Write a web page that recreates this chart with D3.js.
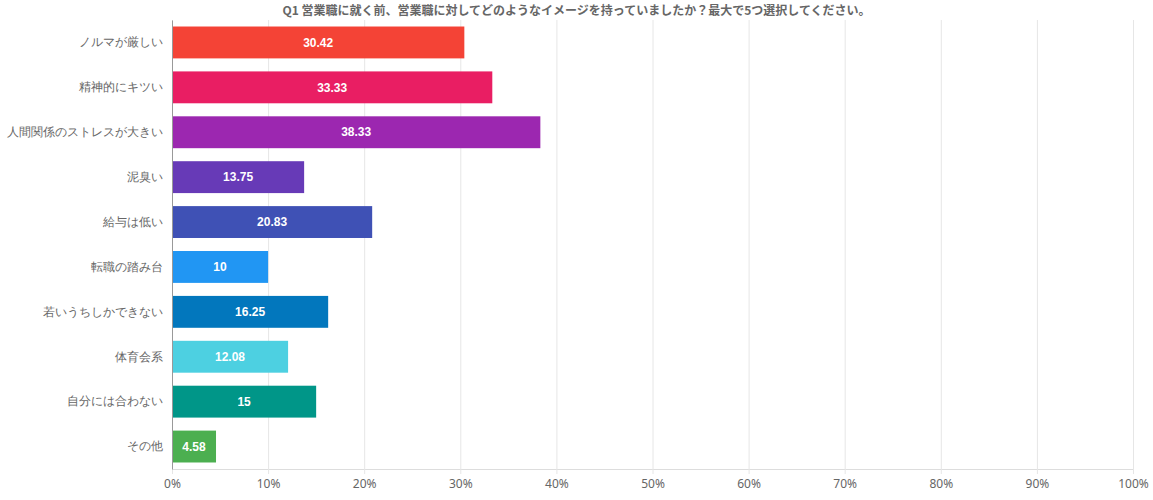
<!DOCTYPE html>
<html>
<head>
<meta charset="utf-8">
<script src="https://cdn.jsdelivr.net/npm/d3@7"></script>
<style>
  body { margin: 0; background: #fff; font-family: "Noto Sans CJK JP", "Noto Sans", sans-serif; }
</style>
</head>
<body>
<div id="chart"></div>
<script>
// Q1 answers (percent)
const categories = [
  "ノルマが厳しい", "精神的にキツい", "人間関係のストレスが大きい", "泥臭い", "給与は低い",
  "転職の踏み台", "若いうちしかできない", "体育会系", "自分には合わない", "その他"
];
const values = [30.42, 33.33, 38.33, 13.75, 20.83, 10, 16.25, 12.08, 15, 4.58];
const barColors = [
  "#f44336", "#e91e63", "#9c27b0", "#673ab7", "#3f51b5",
  "#2196f3", "#0277bd", "#4dd0e1", "#009688", "#4caf50"
];
const xTicks = [0, 10, 20, 30, 40, 50, 60, 70, 80, 90, 100];
const title = "Q1  営業職に就く前、営業職に対してどのようなイメージを持っていましたか？最大で5つ選択してください。";

const width = 1153, height = 500;
const margin = { top: 20, right: 20, bottom: 31, left: 172 };
const innerW = width - margin.left - margin.right;
const innerH = height - margin.top - margin.bottom;

const svg = d3.select('#chart')
  .append('svg')
    .attr('width', width)
    .attr('height', height);

svg.append('text')
    .attr('x', width / 2)
    .attr('y', 15)
    .attr('text-anchor', 'middle')
    .style('font-size', '12px')
    .style('font-weight', 'bold')
    .style('fill', '#666')
    .text(title);

const g = svg.append('g')
    .attr('transform', `translate(${margin.left},${margin.top})`);

const x = d3.scaleLinear().domain([0, 100]).range([0, innerW]);
const y = d3.scaleBand().domain(categories).range([0, innerH]).paddingInner(0.29).paddingOuter(0.145);

// gridlines + bottom axis
const xAxis = g.append('g')
    .attr('transform', `translate(0,${innerH})`)
    .call(d3.axisBottom(x).tickValues(xTicks).tickFormat(d => d + '%').tickSize(-innerH - 0).tickSizeOuter(0).tickPadding(10));
xAxis.select('.domain').attr('stroke', '#ddd');
xAxis.selectAll('.tick line').attr('stroke', '#e6e6e6').attr('y2', 5).attr('y1', -innerH);
xAxis.selectAll('.tick text')
    .style('font-size', '12px')
    .style('fill', '#666')
    .style('font-family', '"Noto Sans", sans-serif');

// y axis
const yAxis = g.append('g')
    .call(d3.axisLeft(y).tickSize(0).tickPadding(9));
yAxis.select('.domain').attr('stroke', '#999');
yAxis.selectAll('.tick text')
    .style('font-size', '12px')
    .style('fill', '#666');

// bars
const rows = categories.map((c, i) => ({ cat: c, value: values[i], color: barColors[i] }));

g.selectAll('rect.bar')
  .data(rows)
  .enter()
  .append('rect')
    .attr('class', 'bar')
    .attr('x', 1)
    .attr('y', d => y(d.cat))
    .attr('width', d => x(d.value) - 1)
    .attr('height', y.bandwidth())
    .attr('fill', d => d.color);

g.selectAll('text.val')
  .data(rows)
  .enter()
  .append('text')
    .attr('class', 'val')
    .attr('x', d => x(d.value) / 2)
    .attr('y', d => y(d.cat) + y.bandwidth() / 2)
    .attr('dy', '0.35em')
    .attr('text-anchor', 'middle')
    .style('font-size', '12px')
    .style('font-weight', 'bold')
    .style('fill', '#fff')
    .style('font-family', '"Liberation Sans", Arial, sans-serif')
    .text(d => d.value);
</script>
</body>
</html>
